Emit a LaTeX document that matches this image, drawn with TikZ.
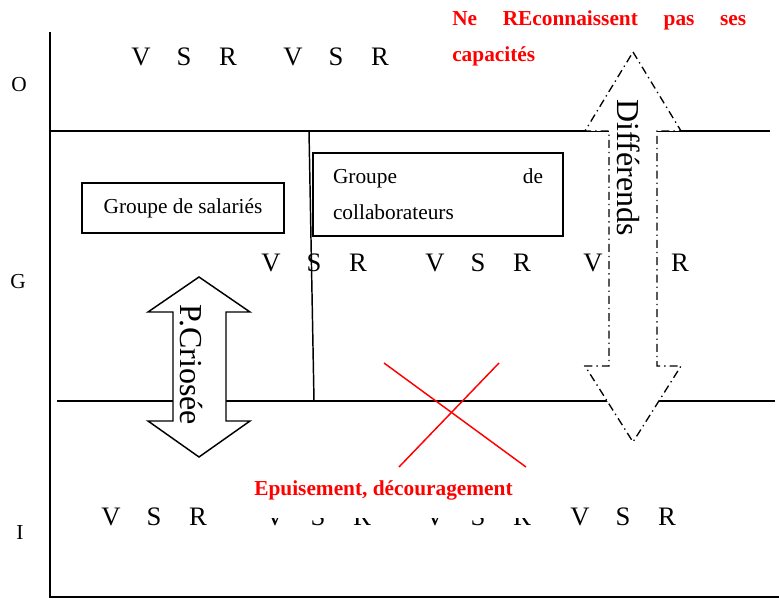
\documentclass[tikz,border=0pt]{standalone}
\usepackage{fontspec}
\setmainfont{Liberation Serif}
\usepackage{xcolor}
\usepackage{tikz}
\usetikzlibrary{positioning}
\definecolor{note-red}{HTML}{FF0000}

\begin{document}
\begin{tikzpicture}[x=0.75pt,y=-0.75pt,
			frame/.style={line width=1.1pt, black},
			groupbox/.style={
				draw, line width=1.4pt, inner sep=0pt,
				font=\fontsize{16}{27}\selectfont
			},
			letter/.style={inner sep=0pt, font=\fontsize{20}{24}\selectfont},
			level/.style={inner sep=0pt, font=\fontsize{16}{19}\selectfont},
			crioarrow/.style={draw, fill=white, line width=1.1pt},
			diffarrow/.style={
				draw, fill=white, line width=1pt,
				dash pattern=on 6pt off 3pt on 1pt off 3pt
			},
			arrowlabel/.style={inner sep=0pt, rotate=-90, font=\fontsize{24}{28}\selectfont},
			remark/.style={
				inner sep=0pt, text=note-red,
				font=\fontsize{16}{27}\selectfont\bfseries
			}
			]
			
			\useasboundingbox (0,0) rectangle (779,599);
			
			\draw[frame] (50,32) -- (50,597) -- (779,597);
			\draw[frame] (50,131) -- (770,131);
			\draw[frame] (57,401) -- (775,401);
			\draw[frame] (309,131) -- (314,401);
			
			\node[level] (lvl-o) at (19,85) {O};
			\node[level] (lvl-g) at (18,282) {G};
			\node[level] (lvl-i) at (20,533) {I};
			
			\node[groupbox, minimum width=151.5pt, minimum height=37.5pt] (salaries) at (183,208) {Groupe de salariés};
			\node[groupbox, text width=157.5pt, inner xsep=15pt, minimum height=62.25pt, align=left] (collab) at (438,194.5)
			{Groupe\hfill de\\collaborateurs};
			
			\foreach \gx/\gy/\gid in {141/57/o1, 293/57/o2, 271/263/g1, 435/263/g2,
				111/517/i1, 275/517/i2, 435/517/i3, 580/517/i4}{
				\node[letter] (\gid-v) at (\gx,\gy) {V};
				\node[letter] (\gid-s) at (\gx+43,\gy) {S};
				\node[letter] (\gid-r) at (\gx+87,\gy) {R};
			}
			\node[letter] (g3-v) at (593,263) {V};
			\node[letter] (g3-r) at (680,263) {R};
			
			\draw[crioarrow] (199,277) -- (250,312) -- (226,312) -- (226,421) -- (250,421) -- (199,457)
			-- (148,421) -- (173,421) -- (173,312) -- (148,312) -- cycle;
			\node[arrowlabel] (criosee) at (191,365) {P.Criosée};
			
			\draw[diffarrow] (633,52) -- (681,131) -- (657,131) -- (657,366) -- (681,366) -- (633,442)
			-- (585,366) -- (609,366) -- (609,131) -- (585,131) -- cycle;
			\node[arrowlabel] (differends) at (629,168) {Différends};
			
			\node[remark, text width=220.5pt, align=left, anchor=north west] (capacites) at (452,10)
			{Ne\hfill REconnaissent\hfill pas\hfill ses\\capacités};
			\node[remark, fill=white, inner xsep=14pt, inner ysep=13.5pt] (epuisement) at (383.5,490)
			{Epuisement, découragement};
			
			\draw[note-red, line width=1.1pt] (384,363) -- (526,467);
			\draw[note-red, line width=1.1pt] (399,467) -- (499,363);
			
		\end{tikzpicture}
\end{document}
